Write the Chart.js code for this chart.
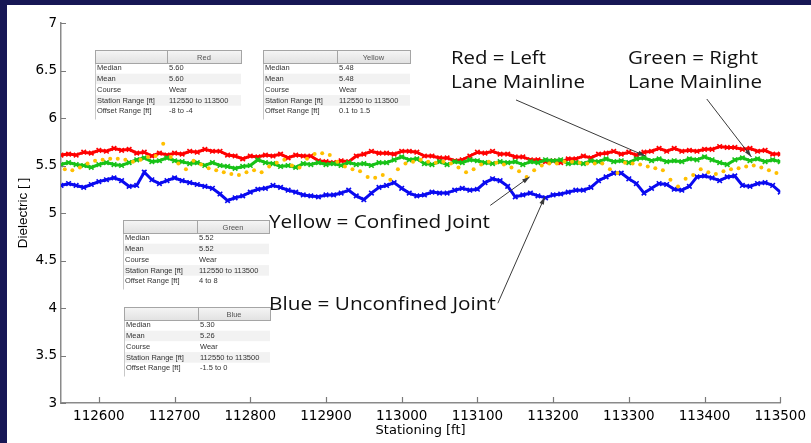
<!DOCTYPE html>
<html>
<head>
<meta charset="utf-8">
<script src="https://cdn.jsdelivr.net/npm/chart.js"></script>
<style>
  html, body { margin: 0; padding: 0; background: #171755; }
</style>
</head>
<body>
<canvas id="dielectric-chart" width="811" height="443"></canvas>
<script>
// stationing of the red / green / blue traces (ft)
const stations = [
  112550, 112560, 112570, 112580, 112590, 112600, 112610, 112620, 112630, 112640,
  112650, 112660, 112670, 112680, 112690, 112700, 112710, 112720, 112730, 112740,
  112750, 112760, 112770, 112780, 112790, 112800, 112810, 112820, 112830, 112840,
  112850, 112860, 112870, 112880, 112890, 112900, 112910, 112920, 112930, 112940,
  112950, 112960, 112970, 112980, 112990, 113000, 113010, 113020, 113030, 113040,
  113050, 113060, 113070, 113080, 113090, 113100, 113110, 113120, 113130, 113140,
  113150, 113160, 113170, 113180, 113190, 113200, 113210, 113220, 113230, 113240,
  113250, 113260, 113270, 113280, 113290, 113300, 113310, 113320, 113330, 113340,
  113350, 113360, 113370, 113380, 113390, 113400, 113410, 113420, 113430, 113440,
  113450, 113460, 113470, 113480, 113490, 113500
];

const redValues = [
  5.61, 5.62, 5.61, 5.64, 5.63, 5.66, 5.65, 5.68, 5.66, 5.67,
  5.63, 5.64, 5.60, 5.63, 5.61, 5.63, 5.62, 5.65, 5.64, 5.67,
  5.65, 5.65, 5.61, 5.60, 5.57, 5.60, 5.59, 5.61, 5.60, 5.62,
  5.58, 5.61, 5.60, 5.60, 5.55, 5.54, 5.53, 5.55, 5.54, 5.60,
  5.62, 5.65, 5.63, 5.63, 5.62, 5.65, 5.65, 5.64, 5.60, 5.60,
  5.58, 5.58, 5.55, 5.56, 5.60, 5.64, 5.63, 5.65, 5.62, 5.62,
  5.59, 5.59, 5.56, 5.56, 5.54, 5.55, 5.53, 5.57, 5.57, 5.60,
  5.58, 5.62, 5.63, 5.65, 5.62, 5.64, 5.61, 5.64, 5.65, 5.68,
  5.65, 5.68, 5.65, 5.66, 5.65, 5.67, 5.67, 5.70, 5.69, 5.69,
  5.67, 5.68, 5.65, 5.66, 5.62, 5.62
];

const greenValues = [
  5.51, 5.53, 5.51, 5.50, 5.48, 5.51, 5.53, 5.51, 5.50, 5.53,
  5.56, 5.58, 5.54, 5.55, 5.58, 5.55, 5.54, 5.52, 5.53, 5.50,
  5.53, 5.50, 5.49, 5.47, 5.49, 5.50, 5.56, 5.53, 5.52, 5.49,
  5.50, 5.48, 5.52, 5.51, 5.53, 5.51, 5.52, 5.50, 5.53, 5.51,
  5.52, 5.50, 5.53, 5.53, 5.56, 5.59, 5.56, 5.57, 5.52, 5.51,
  5.54, 5.51, 5.54, 5.53, 5.56, 5.55, 5.53, 5.52, 5.54, 5.53,
  5.54, 5.51, 5.54, 5.53, 5.56, 5.55, 5.56, 5.52, 5.53, 5.52,
  5.55, 5.54, 5.57, 5.54, 5.55, 5.53, 5.57, 5.58, 5.55, 5.57,
  5.54, 5.55, 5.54, 5.57, 5.56, 5.59, 5.56, 5.53, 5.51, 5.56,
  5.58, 5.55, 5.57, 5.54, 5.56, 5.54
];

const blueValues = [
  5.29, 5.31, 5.29, 5.27, 5.30, 5.33, 5.35, 5.37, 5.34, 5.28,
  5.29, 5.43, 5.35, 5.31, 5.34, 5.37, 5.34, 5.32, 5.30, 5.28,
  5.26, 5.20, 5.13, 5.16, 5.18, 5.22, 5.25, 5.26, 5.29, 5.27,
  5.24, 5.22, 5.19, 5.18, 5.17, 5.19, 5.19, 5.21, 5.24, 5.18,
  5.14, 5.21, 5.27, 5.29, 5.32, 5.26, 5.21, 5.18, 5.19, 5.22,
  5.21, 5.21, 5.24, 5.26, 5.24, 5.25, 5.32, 5.36, 5.34, 5.28,
  5.17, 5.19, 5.21, 5.18, 5.16, 5.19, 5.20, 5.22, 5.24, 5.24,
  5.27, 5.34, 5.38, 5.42, 5.42, 5.36, 5.31, 5.21, 5.26, 5.31,
  5.30, 5.25, 5.24, 5.28, 5.38, 5.39, 5.37, 5.34, 5.38, 5.39,
  5.29, 5.28, 5.31, 5.32, 5.29, 5.22
];

// yellow (confined joint) readings are sparser dots
const yellowStations = [
  112555, 112565, 112575, 112585, 112595, 112605, 112615, 112625, 112635, 112645,
  112655, 112665, 112675, 112685, 112695, 112705, 112715, 112725, 112735, 112745,
  112755, 112765, 112775, 112785, 112795, 112805, 112815, 112825, 112835, 112845,
  112855, 112865, 112875, 112885, 112895, 112905, 112915, 112925, 112935, 112945,
  112955, 112965, 112975, 112985, 112995, 113005, 113015, 113025, 113035, 113045,
  113055, 113065, 113075, 113085, 113095, 113105, 113115, 113125, 113135, 113145,
  113155, 113165, 113175, 113185, 113195, 113205, 113215, 113225, 113235, 113245,
  113255, 113265, 113275, 113285, 113295, 113305, 113315, 113325, 113335, 113345,
  113355, 113365, 113375, 113385, 113395, 113405, 113415, 113425, 113435, 113445,
  113455, 113465, 113475, 113485, 113495
];

const yellowValues = [
  5.46, 5.45, 5.48, 5.52, 5.55, 5.56, 5.57, 5.57, 5.56, 5.54,
  5.56, 5.59, 5.60, 5.73, 5.59, 5.52, 5.46, 5.55, 5.51, 5.47,
  5.45, 5.43, 5.41, 5.40, 5.43, 5.45, 5.43, 5.49, 5.53, 5.56,
  5.50, 5.48, 5.57, 5.62, 5.63, 5.61, 5.54, 5.49, 5.46, 5.44,
  5.38, 5.37, 5.40, 5.35, 5.46, 5.52, 5.54, 5.56, 5.54, 5.53,
  5.54, 5.52, 5.48, 5.43, 5.46, 5.51, 5.54, 5.53, 5.51, 5.48,
  5.44, 5.38, 5.45, 5.50, 5.52, 5.52, 5.54, 5.54, 5.53, 5.52,
  5.52, 5.52, 5.46, 5.42, 5.53, 5.52, 5.51, 5.49, 5.47, 5.45,
  5.35, 5.28, 5.36, 5.40, 5.46, 5.43, 5.41, 5.44, 5.46, 5.47,
  5.49, 5.50, 5.48, 5.45, 5.42
];

const xTicks = [112600, 112700, 112800, 112900, 113000, 113100, 113200, 113300, 113400, 113500];
const yTicks = [3, 3.5, 4, 4.5, 5, 5.5, 6, 6.5, 7];

// summary tables
const statRows = ['Median', 'Mean', 'Course', 'Station Range [ft]', 'Offset Range [ft]'];
const redStats = ['5.60', '5.60', 'Wear', '112550 to 113500', '-8 to -4'];
const yellowStats = ['5.48', '5.48', 'Wear', '112550 to 113500', '0.1 to 1.5'];
const greenStats = ['5.52', '5.52', 'Wear', '112550 to 113500', '4 to 8'];
const blueStats = ['5.30', '5.26', 'Wear', '112550 to 113500', '-1.5 to 0'];

const toPoints = (xs, ys) => xs.map((x, i) => ({ x: x, y: ys[i] }));

function drawTable(ctx, left, top, width, divX, title, values) {
  const headH = 13, rowH = 10.7;
  const bodyH = rowH * statRows.length + 3;
  ctx.save();
  statRows.forEach((label, i) => {
    const ry = top + headH + i * rowH;
    ctx.fillStyle = i % 2 === 1 ? '#f2f2f2' : '#ffffff';
    ctx.fillRect(left, ry, width, rowH);
    ctx.fillStyle = '#333';
    ctx.font = '7.5px "Liberation Sans"';
    ctx.textBaseline = 'middle';
    ctx.textAlign = 'left';
    ctx.fillText(label, left + 2, ry + rowH / 2);
    ctx.fillText(values[i], divX + 2, ry + rowH / 2);
  });
  ctx.strokeStyle = '#c8c8c8';
  ctx.lineWidth = 1;
  ctx.beginPath();
  ctx.moveTo(left + 0.5, top + headH);
  ctx.lineTo(left + 0.5, top + headH + bodyH);
  ctx.stroke();
  // header
  const g = ctx.createLinearGradient(0, top, 0, top + headH);
  g.addColorStop(0, '#f6f6f6');
  g.addColorStop(1, '#e2e2e2');
  ctx.fillStyle = g;
  ctx.fillRect(left, top, width, headH);
  ctx.strokeStyle = '#a5a5a5';
  ctx.strokeRect(left + 0.5, top + 0.5, width, headH);
  ctx.beginPath();
  ctx.moveTo(divX + 0.5, top);
  ctx.lineTo(divX + 0.5, top + headH);
  ctx.stroke();
  ctx.fillStyle = '#555';
  ctx.font = '7.5px "Liberation Sans"';
  ctx.textAlign = 'center';
  ctx.textBaseline = 'middle';
  ctx.fillText(title, (divX + left + width) / 2, top + headH / 2 + 1);
  ctx.restore();
}

function drawLabel(ctx, text, left, cy, width) {
  ctx.save();
  ctx.font = '19px "Open Sans"';
  const m = ctx.measureText(text).width;
  ctx.translate(left, cy);
  ctx.scale(width / m, 1);
  ctx.fillStyle = '#111';
  ctx.textAlign = 'left';
  ctx.textBaseline = 'middle';
  ctx.fillText(text, 0, 0);
  ctx.restore();
}

function drawArrow(ctx, x0, y0, x1, y1) {
  const a = Math.atan2(y1 - y0, x1 - x0), h = 8;
  ctx.save();
  ctx.strokeStyle = '#3a3a3a';
  ctx.fillStyle = '#3a3a3a';
  ctx.lineWidth = 1;
  ctx.beginPath();
  ctx.moveTo(x0, y0);
  ctx.lineTo(x1, y1);
  ctx.stroke();
  ctx.beginPath();
  ctx.moveTo(x1, y1);
  ctx.lineTo(x1 - h * Math.cos(a - 0.3), y1 - h * Math.sin(a - 0.3));
  ctx.lineTo(x1 - h * Math.cos(a + 0.3), y1 - h * Math.sin(a + 0.3));
  ctx.closePath();
  ctx.fill();
  ctx.restore();
}

const framePlugin = {
  id: 'frame',
  beforeDraw(chart) {
    const ctx = chart.ctx;
    ctx.save();
    ctx.fillStyle = '#171755';
    ctx.fillRect(0, 0, chart.width, chart.height);
    ctx.fillStyle = '#ffffff';
    ctx.fillRect(7, 5, chart.width - 7, chart.height - 5);
    ctx.restore();
  }
};

const overlayPlugin = {
  id: 'overlay',
  afterDraw(chart) {
    const ctx = chart.ctx;
    const xs = chart.scales.x, ys = chart.scales.y;
    // inward tick marks
    ctx.save();
    ctx.strokeStyle = '#7a7a7a';
    ctx.lineWidth = 1.2;
    ctx.beginPath();
    ys.ticks.forEach(t => {
      const py = Math.round(ys.getPixelForValue(t.value)) + 0.5;
      ctx.moveTo(xs.left, py);
      ctx.lineTo(xs.left + 5, py);
    });
    xs.ticks.forEach(t => {
      const px = Math.round(xs.getPixelForValue(t.value)) + 0.5;
      ctx.moveTo(px, ys.bottom);
      ctx.lineTo(px, ys.bottom - 6);
    });
    ctx.stroke();
    ctx.restore();

    drawTable(ctx, 95, 50, 146, 167, 'Red', redStats);
    drawTable(ctx, 263, 50, 147, 337, 'Yellow', yellowStats);
    drawTable(ctx, 123, 220, 146, 197, 'Green', greenStats);
    drawTable(ctx, 124, 307, 146, 198, 'Blue', blueStats);

    drawLabel(ctx, 'Red = Left', 451, 59, 95);
    drawLabel(ctx, 'Lane Mainline', 451, 83, 134);
    drawLabel(ctx, 'Green = Right', 628, 59, 130);
    drawLabel(ctx, 'Lane Mainline', 628, 83, 134);
    drawLabel(ctx, 'Yellow = Confined Joint', 269, 223, 221);
    drawLabel(ctx, 'Blue = Unconfined Joint', 269, 305, 227);

    const px = v => xs.getPixelForValue(v), py = v => ys.getPixelForValue(v);
    drawArrow(ctx, px(113151), py(6.19), px(113322), py(5.60));
    drawArrow(ctx, px(113403), py(6.20), px(113462), py(5.59));
    drawArrow(ctx, px(113117), py(5.08), px(113169), py(5.38));
    drawArrow(ctx, px(113127), py(4.05), px(113189), py(5.17));
  }
};

const tickFont = { family: 'DejaVu Sans', size: 13.5 };

function trace(label, xs, ys, color) {
  return {
    label: label,
    data: toPoints(xs, ys),
    showLine: true,
    borderColor: color,
    borderWidth: 3,
    pointStyle: 'crossRot',
    pointRadius: 3.2,
    pointBorderWidth: 1.6,
    pointBorderColor: color,
    pointBackgroundColor: color
  };
}

new Chart(document.getElementById('dielectric-chart'), {
  type: 'scatter',
  data: {
    datasets: [
      {
        label: 'Yellow',
        data: toPoints(yellowStations, yellowValues),
        showLine: false,
        pointRadius: 2,
        pointBorderWidth: 0,
        pointBackgroundColor: '#ffbf00'
      },
      trace('Green', stations, greenValues, '#18c218'),
      trace('Red', stations, redValues, '#ff0000'),
      trace('Blue', stations, blueValues, '#0a0af0')
    ]
  },
  options: {
    responsive: false,
    animation: false,
    events: [],
    layout: { padding: { left: 7, top: 23, right: 26, bottom: 0 } },
    plugins: {
      legend: { display: false },
      tooltip: { enabled: false }
    },
    scales: {
      x: {
        type: 'linear',
        min: 112550,
        max: 113500,
        afterBuildTicks: s => { s.ticks = xTicks.map(v => ({ value: v })); },
        afterFit: s => { s.height = 40; },
        grid: { display: false, drawTicks: false },
        border: { color: '#8a8a8a', width: 1.5 },
        ticks: {
          padding: 5,
          font: tickFont,
          color: '#000',
          maxRotation: 0,
          autoSkip: false,
          callback: v => String(v)
        },
        title: {
          display: true,
          text: 'Stationing [ft]',
          font: { family: 'DejaVu Sans', size: 13 },
          color: '#000',
          padding: { top: 0, bottom: 5 }
        }
      },
      y: {
        min: 3,
        max: 7,
        afterBuildTicks: s => { s.ticks = yTicks.map(v => ({ value: v })); },
        afterFit: s => { s.width = 54; },
        grid: { display: false, drawTicks: false },
        border: { color: '#8a8a8a', width: 1.5 },
        ticks: {
          padding: 4,
          font: tickFont,
          color: '#000',
          callback: v => String(v)
        },
        title: {
          display: true,
          text: 'Dielectric [ ]',
          font: { family: 'Liberation Sans', size: 13.5 },
          color: '#000',
          padding: { top: 8, bottom: 0 }
        }
      }
    }
  },
  plugins: [framePlugin, overlayPlugin]
});
</script>
</body>
</html>
